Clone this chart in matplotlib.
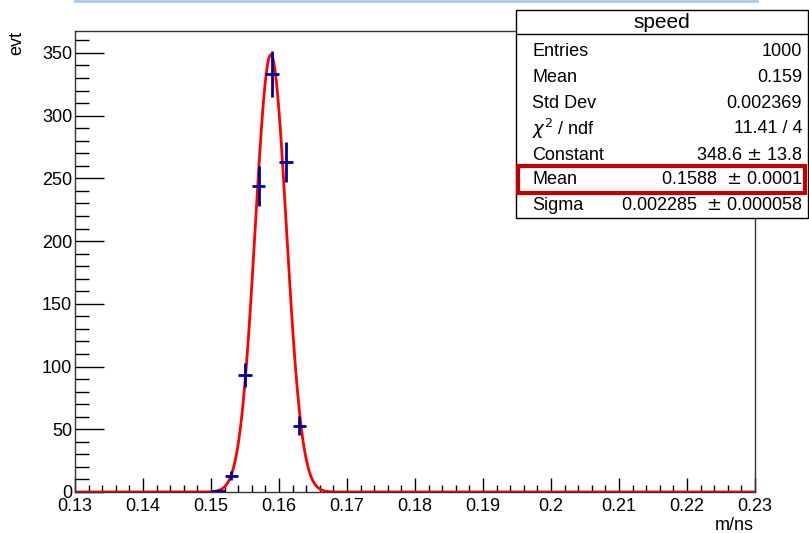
import numpy as np
import matplotlib.pyplot as plt
from matplotlib.lines import Line2D
from matplotlib.patches import Rectangle
from matplotlib.ticker import MultipleLocator

plt.rcParams['font.family'] = ['Liberation Sans', 'DejaVu Sans']

# histogram "speed": non-empty bins (width 0.002 from 0.13 to 0.23)
bin_centers = [0.151, 0.153, 0.155, 0.157, 0.159, 0.161, 0.163]
counts = [1, 13, 93, 244, 333, 263, 53]
bin_width = 0.002

# gaussian fit parameters from the stats box
fit_const = 348.6
fit_mean = 0.1588
fit_sigma = 0.002285

stat_labels = ['Entries', 'Mean', 'Std Dev', r'$\chi^2$ / ndf', 'Constant', 'Mean', 'Sigma']
stat_values = ['1000', '0.159', '0.002369', '11.41 / 4', '348.6 $\\pm$ 13.8',
               '0.1588  $\\pm$ 0.0001', '0.002285  $\\pm$ 0.000058']

W, H = 809, 533
fig = plt.figure(figsize=(W / 100, H / 100), dpi=100)
ax = fig.add_axes([75 / W, 1 - 492 / H, (755 - 75) / W, (492 - 31) / H])

# fit curve
xf = np.linspace(0.13, 0.23, 1001)
yf = fit_const * np.exp(-0.5 * ((xf - fit_mean) / fit_sigma) ** 2)
ax.plot(xf, yf, color='#ff0000', lw=2, zorder=2)

# data points with errors
ax.errorbar(bin_centers, counts, xerr=bin_width / 2, yerr=np.sqrt(counts),
            fmt='none', ecolor='#000099', elinewidth=2, capsize=0, zorder=3)

ax.set_xlim(0.13, 0.23)
ax.set_ylim(0, 367.5)
ax.xaxis.set_major_locator(MultipleLocator(0.01))
ax.xaxis.set_minor_locator(MultipleLocator(0.002))
ax.yaxis.set_major_locator(MultipleLocator(50))
ax.yaxis.set_minor_locator(MultipleLocator(10))
ax.tick_params(axis='x', which='major', direction='in', length=10, width=1, labelsize=13, pad=4)
ax.tick_params(axis='x', which='minor', direction='in', length=5, width=1)
ax.tick_params(axis='y', which='major', direction='in', length=21, width=1, labelsize=13, pad=2)
ax.tick_params(axis='y', which='minor', direction='in', length=10, width=1)
ax.set_xticks([0.13, 0.14, 0.15, 0.16, 0.17, 0.18, 0.19, 0.2, 0.21, 0.22, 0.23])
ax.set_xticklabels(['0.13', '0.14', '0.15', '0.16', '0.17', '0.18', '0.19', '0.2',
                    '0.21', '0.22', '0.23'])
for s in ax.spines.values():
    s.set_linewidth(1)
    s.set_color('#333333')

fig.text(754 / W, 1 - 526 / H, 'm/ns', ha='right', va='center', fontsize=13)
fig.text(17 / W, 1 - 31 / H, 'evt', ha='center', va='top', rotation=90, fontsize=13)

# light blue line at the top of the screenshot
fig.add_artist(Line2D([75 / W, 757 / W], [1 - 1 / H, 1 - 1 / H], color='#a9c9ea', lw=2))

# stats box
bx0, bx1, by0, by1 = 516, 808, 10, 218
fig.add_artist(Rectangle((bx0 / W, 1 - by1 / H), (bx1 - bx0) / W, (by1 - by0) / H,
                         facecolor='white', edgecolor='black', lw=1, zorder=5))
fig.add_artist(Line2D([bx0 / W, bx1 / W], [1 - 34 / H, 1 - 34 / H], color='black', lw=1, zorder=6))
fig.text((bx0 + bx1) / 2 / W, 1 - 22 / H, 'speed', ha='center', va='center', fontsize=15, zorder=7)
row_y = [51, 77, 104, 129, 155, 180, 205]
for lab, val, yy in zip(stat_labels, stat_values, row_y):
    fig.text(532 / W, 1 - yy / H, lab, ha='left', va='center', fontsize=13, zorder=7)
    fig.text(802 / W, 1 - yy / H, val, ha='right', va='center', fontsize=13, zorder=7)
fig.add_artist(Rectangle((518 / W, 1 - 193 / H), (805 - 518) / W, (193 - 166) / H,
                         facecolor='none', edgecolor='#c00000', lw=3, zorder=8))

fig.savefig('out.png', dpi=100)
